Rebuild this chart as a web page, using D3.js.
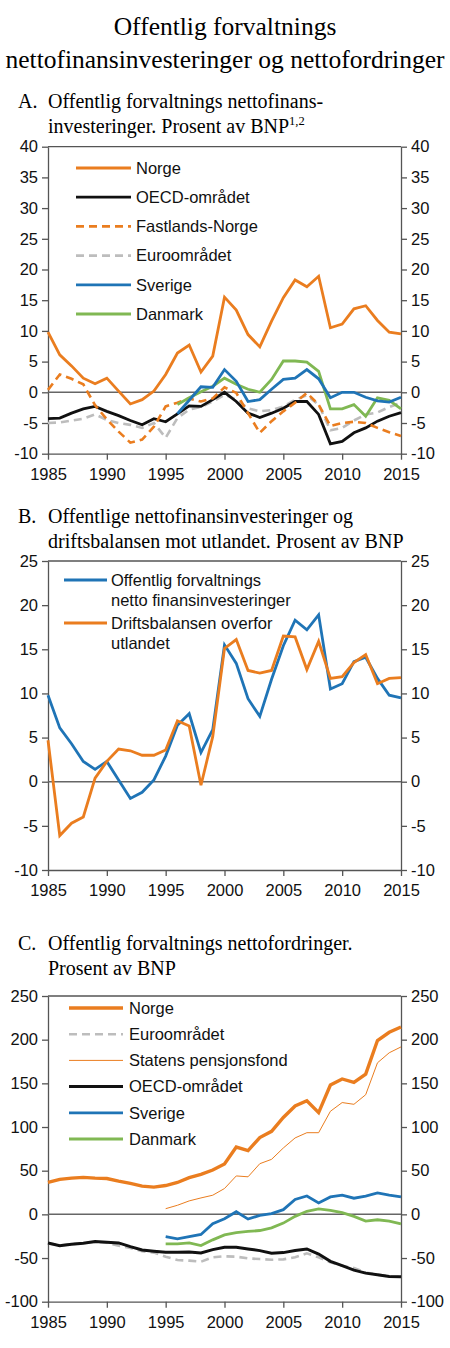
<!DOCTYPE html>
<html>
<head>
<meta charset="utf-8">
<script src="https://cdn.jsdelivr.net/npm/d3@7"></script>
<style>
  body { margin: 0; background: #fff; }
  svg text { font-family: "Liberation Sans", Arial, sans-serif; }
  .serif { font-family: "Liberation Serif", "Times New Roman", serif !important; }
</style>
</head>
<body>
<svg id="chart" width="450" height="1348"></svg>
<script>
var years = [1985, 1986, 1987, 1988, 1989, 1990, 1991, 1992, 1993, 1994, 1995, 1996, 1997, 1998, 1999,
  2000, 2001, 2002, 2003, 2004, 2005, 2006, 2007, 2008, 2009, 2010, 2011, 2012, 2013, 2014, 2015]
var yearTicks = [1985, 1990, 1995, 2000, 2005, 2010, 2015]

// panel A: netto finansinvesteringer, prosent av BNP
var norgeA = [9.8, 6.1, 4.3, 2.3, 1.4, 2.3, 0.2, -1.9, -1.2, 0.2, 2.9, 6.4, 7.7, 3.3, 5.9,
  15.5, 13.4, 9.4, 7.4, 11.6, 15.4, 18.3, 17.2, 18.9, 10.5, 11.1, 13.6, 14.1, 11.7, 9.8, 9.5]
var oecdA = [-4.3, -4.2, -3.4, -2.7, -2.3, -3.1, -3.8, -4.6, -5.3, -4.3, -4.8, -3.5, -2.2, -2.3, -1.2,
  0.0, -1.5, -3.4, -4.1, -3.4, -2.6, -1.5, -1.5, -3.6, -8.4, -8.0, -6.6, -5.8, -4.7, -3.9, -3.3]
var fastlandA = [0.4, 2.9, 2.2, 1.3, -2.1, -4.4, -6.4, -8.2, -7.7, -5.6, -2.3, -1.7, -1.0, -1.5, -1.0,
  0.8, -0.1, -3.4, -6.6, -4.7, -3.1, -1.7, -0.1, -2.0, -5.5, -5.0, -4.8, -5.0, -5.8, -6.5, -7.1]
var euroA = [-5.0, -4.9, -4.6, -4.3, -3.6, -4.5, -5.0, -5.3, -5.8, -5.0, -7.4, -4.2, -2.8, -2.4, -1.5,
  -0.4, -1.2, -2.6, -3.1, -2.9, -2.3, -1.2, -0.5, -2.0, -6.2, -5.8, -4.6, -3.6, -3.3, -2.4, -1.7]
var sverigeA = [null, null, null, null, null, null, null, null, null, null, null,
  -3.5, -1.3, 0.9, 0.8, 3.7, 1.8, -1.5, -1.2, 0.5, 2.1, 2.3, 3.7, 2.2, -0.9, 0.0, 0.0, -0.8, -1.4, -1.6, -0.8]
var danmarkA = [null, null, null, null, null, null, null, null, null, null, null,
  -2.0, -0.9, 0.1, 1.0, 2.3, 1.3, 0.5, 0.0, 2.1, 5.1, 5.1, 4.9, 3.4, -2.7, -2.7, -2.0, -3.9, -0.9, -1.3, -2.7]

// panel B: driftsbalansen overfor utlandet
var driftsB = [4.7, -6.1, -4.7, -4.0, 0.4, 2.3, 3.7, 3.5, 3.0, 3.0, 3.6, 6.9, 6.3, -0.4, 5.1,
  15.1, 16.1, 12.6, 12.3, 12.6, 16.5, 16.4, 12.7, 15.9, 11.7, 11.9, 13.5, 14.4, 11.1, 11.7, 11.8]

// panel C: netto fordringer
var norgeC = [36.5, 40, 41.5, 42.3, 41.5, 41, 38, 35.4, 32.3, 31.2, 33, 36.5, 42, 45.8, 50.8,
  57.7, 77, 73, 88, 95, 111, 124, 130, 116.5, 148, 155, 151, 160.5, 199, 208.5, 214.5]
var spfC = [null, null, null, null, null, null, null, null, null, null,
  6.5, 10.4, 15.4, 18.8, 21.9, 29.6, 44, 43, 58, 63, 76, 87.5, 93.5, 93.5, 118, 128, 126, 137, 173.5, 185, 191.7]
var sverigeC = [null, null, null, null, null, null, null, null, null, null,
  -25.4, -28, -25.4, -23, -10.8, -5, 3, -5.4, -1.2, 0.8, 5.4, 17, 21, 13, 20, 22, 18.5, 21, 24.6, 22, 20]
var danmarkC = [null, null, null, null, null, null, null, null, null, null,
  -33.8, -33.8, -32.7, -35.8, -29.2, -23.5, -20.8, -19.6, -18.5, -15.4, -10, -2.3, 3.5, 6.2, 4.6, 1.9, -2.3, -7.7, -6.2, -7.7, -10.8]
var oecdC = [-32.7, -35.8, -34.2, -33, -31.2, -32, -32.7, -37, -40.8, -42.3, -43.5, -43.5, -43, -44.2, -40.4,
  -37.7, -37.7, -39.6, -41.5, -44.6, -43.8, -41.5, -39.6, -45.4, -53.8, -58.8, -63.8, -67.3, -69.2, -71.2, -71.5]
var euroC = [-33, -35.5, -34, -33, -31.5, -32.5, -35.8, -38.5, -42.3, -43.8, -48.5, -52.3, -53, -54.2, -49.2,
  -48, -48.5, -50.4, -51.2, -52, -51.5, -49.2, -44.6, -49.2, -55, -58.8, -61.5, -66.5, -69, -71, -71.5]

var ticksA = [-10, -5, 0, 5, 10, 15, 20, 25, 30, 35, 40]
var ticksB = [-10, -5, 0, 5, 10, 15, 20, 25]
var ticksC = [-100, -50, 0, 50, 100, 150, 200, 250]

var orange = '#ea7d1f', black = '#111', blue = '#1f74b6', green = '#80b853', grey = '#bdbdbd'

var svg = d3.select('#chart')

svg.append('text').attr('class', 'serif').text('Offentlig forvaltnings')
  .attr('x', 225).attr('y', 35).attr('text-anchor', 'middle').attr('font-size', 25.5)
svg.append('text').attr('class', 'serif').text('nettofinansinvesteringer og nettofordringer')
  .attr('x', 225).attr('y', 68).attr('text-anchor', 'middle').attr('font-size', 25.5)

function panel(o){
  var g = svg.append('g')
  var x = d3.scaleLinear().domain([1985, 2015]).range([48, 401])
  var y = d3.scaleLinear().domain(o.domain).range([o.bottom, o.top])

  // subtitle
  g.append('text').attr('class', 'serif').text(o.letter)
    .attr('x', 18).attr('y', o.titleY).attr('font-size', 20)
  o.title.forEach(function(t, i){
    var tt = g.append('text').attr('class', 'serif')
      .attr('x', 48).attr('y', o.titleY + i*24.5).attr('font-size', 20).text(t)
    if (i == o.title.length - 1 && o.sup){
      tt.append('tspan').text(o.sup).attr('font-size', 12.5).attr('dy', -8)
    }
  })

  var fmt = function(d){ return String(d) }
  var left = g.append('g').attr('transform', 'translate(48,0)')
    .call(d3.axisLeft(y).tickValues(o.ticks).tickSize(6).tickSizeOuter(0).tickPadding(4).tickFormat(fmt))
  var right = g.append('g').attr('transform', 'translate(401,0)')
    .call(d3.axisRight(y).tickValues(o.ticks).tickSize(6).tickSizeOuter(0).tickPadding(4).tickFormat(fmt))
  var bottom = g.append('g').attr('transform', 'translate(0,' + o.bottom + ')')
    .call(d3.axisBottom(x).tickValues(yearTicks).tickSize(6).tickSizeOuter(0).tickPadding(5).tickFormat(fmt))
  g.append('line').attr('x1', 48).attr('x2', 401).attr('y1', o.top).attr('y2', o.top)
    .attr('stroke', '#555').attr('stroke-width', 1.3)
  ;[left, right, bottom].forEach(function(a){
    a.selectAll('path, line').attr('stroke', '#555').attr('stroke-width', 1.3)
    a.selectAll('text').attr('font-size', 16.5).attr('fill', '#111')
      .style('font-family', '"Liberation Sans", Arial, sans-serif')
  })
  bottom.selectAll('text').attr('dy', '0.9em')

  // zero line
  g.append('line').attr('x1', 48).attr('x2', 401).attr('y1', y(0)).attr('y2', y(0))
    .attr('stroke', '#666').attr('stroke-width', 1.5)

  var line = d3.line()
    .defined(function(d){ return d[1] != null })
    .x(function(d){ return x(d[0]) })
    .y(function(d){ return y(d[1]) })

  o.series.forEach(function(s){
    g.append('path')
      .datum(years.map(function(yr, i){ return [yr, s.values[i]] }))
      .attr('d', line)
      .attr('fill', 'none')
      .attr('stroke', s.color)
      .attr('stroke-width', s.width)
      .attr('stroke-dasharray', s.dash || null)
      .attr('stroke-linejoin', 'miter')
  })

  // legend
  var lg = o.legend
  var ly = lg.y
  lg.items.forEach(function(it){
    var s = o.series.filter(function(d){ return d.name == it.name })[0]
    g.append('line').attr('x1', lg.x0).attr('x2', lg.x1).attr('y1', ly).attr('y2', ly)
      .attr('stroke', s.color).attr('stroke-width', s.legendWidth || s.width)
      .attr('stroke-dasharray', s.dash || null)
    it.lines.forEach(function(t, j){
      g.append('text').text(t).attr('x', lg.tx).attr('y', ly + j*lg.lineGap)
        .attr('dy', '0.35em').attr('font-size', lg.size).attr('fill', '#111')
    })
    ly += lg.step + (it.lines.length - 1)*lg.lineGap
  })
}

panel({
  letter: 'A.', title: ['Offentlig forvaltnings nettofinans-', 'investeringer. Prosent av BNP'], sup: '1,2',
  titleY: 108, top: 146.7, bottom: 453.7, domain: [-10, 40], ticks: ticksA,
  series: [
    {name: 'Euroområdet', values: euroA, color: grey, width: 2.6, dash: '8,5'},
    {name: 'OECD-området', values: oecdA, color: black, width: 2.8},
    {name: 'Fastlands-Norge', values: fastlandA, color: orange, width: 2.6, dash: '8,5'},
    {name: 'Danmark', values: danmarkA, color: green, width: 2.8},
    {name: 'Sverige', values: sverigeA, color: blue, width: 2.8},
    {name: 'Norge', values: norgeA, color: orange, width: 2.8}
  ],
  legend: {x0: 76, x1: 131, tx: 136, y: 168, step: 29.2, lineGap: 0, size: 16.5, items: [
    {name: 'Norge', lines: ['Norge']},
    {name: 'OECD-området', lines: ['OECD-området']},
    {name: 'Fastlands-Norge', lines: ['Fastlands-Norge']},
    {name: 'Euroområdet', lines: ['Euroområdet']},
    {name: 'Sverige', lines: ['Sverige']},
    {name: 'Danmark', lines: ['Danmark']}
  ]}
})

panel({
  letter: 'B.', title: ['Offentlige nettofinansinvesteringer og', 'driftsbalansen mot utlandet. Prosent av BNP'],
  titleY: 523, top: 561, bottom: 870, domain: [-10, 25], ticks: ticksB,
  series: [
    {name: 'Offentlig', values: norgeA, color: blue, width: 2.8},
    {name: 'Drifts', values: driftsB, color: orange, width: 2.8}
  ],
  legend: {x0: 64, x1: 107, tx: 111, y: 580, step: 23, lineGap: 20, size: 16.5, items: [
    {name: 'Offentlig', lines: ['Offentlig forvaltnings', 'netto finansinvesteringer']},
    {name: 'Drifts', lines: ['Driftsbalansen overfor', 'utlandet']}
  ]}
})

panel({
  letter: 'C.', title: ['Offentlig forvaltnings nettofordringer.', 'Prosent av BNP'],
  titleY: 950, top: 996, bottom: 1301.7, domain: [-100, 250], ticks: ticksC,
  series: [
    {name: 'Euroområdet', values: euroC, color: grey, width: 2.6, dash: '8,5'},
    {name: 'OECD-området', values: oecdC, color: black, width: 3},
    {name: 'Danmark', values: danmarkC, color: green, width: 2.8},
    {name: 'Sverige', values: sverigeC, color: blue, width: 2.8},
    {name: 'Statens pensjonsfond', values: spfC, color: orange, width: 1},
    {name: 'Norge', values: norgeC, color: orange, width: 3.4}
  ],
  legend: {x0: 69, x1: 123, tx: 129, y: 1008, step: 26.2, lineGap: 0, size: 16.5, items: [
    {name: 'Norge', lines: ['Norge']},
    {name: 'Euroområdet', lines: ['Euroområdet']},
    {name: 'Statens pensjonsfond', lines: ['Statens pensjonsfond']},
    {name: 'OECD-området', lines: ['OECD-området']},
    {name: 'Sverige', lines: ['Sverige']},
    {name: 'Danmark', lines: ['Danmark']}
  ]}
})
</script>
</body>
</html>
